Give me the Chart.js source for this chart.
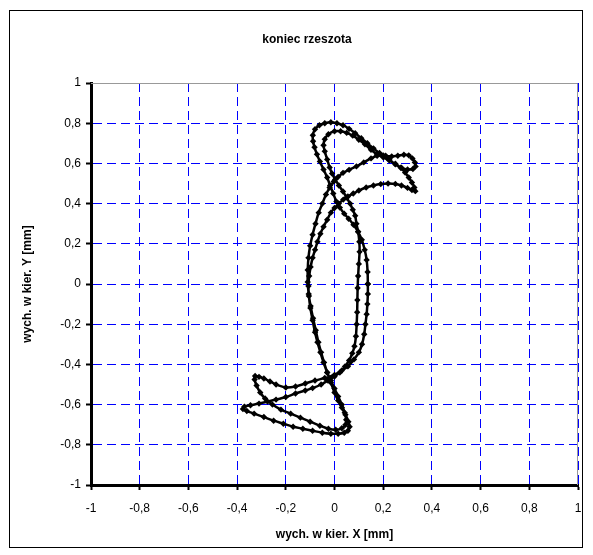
<!DOCTYPE html>
<html>
<head>
<meta charset="utf-8">
<script src="https://cdn.jsdelivr.net/npm/chart.js@4.4.1/dist/chart.umd.min.js"></script>
<style>
    html, body { margin: 0; padding: 0; background: #fff; }
    #wrap { width: 593px; height: 555px; }
</style>
</head>
<body>
<div id="wrap"><canvas id="sieveChart" width="593" height="555"></canvas></div>
<script>
// Chart texts
const chartTitle = 'koniec rzeszota';
const xAxisTitle = 'wych. w kier. X [mm]';
const yAxisTitle = 'wych. w kier. Y [mm]';

// Tick labels (comma as decimal separator)
const xTickLabels = ['-1', '-0,8', '-0,6', '-0,4', '-0,2', '0', '0,2', '0,4', '0,6', '0,8', '1'];
const yTickLabels = ['-1', '-0,8', '-0,6', '-0,4', '-0,2', '0', '0,2', '0,4', '0,6', '0,8', '1'];

// Trajectory of the sieve end (two laps, closed)
const xValues = [
    0.137, 0.136, 0.132, 0.124, 0.112, 0.097, 0.078, 0.058, 0.04, 0.022,
    0.008, -0.005, -0.018, -0.03, -0.045, -0.06, -0.072, -0.082, -0.088, -0.089,
    -0.08, -0.062, -0.04, -0.015, 0.01, 0.035, 0.06, 0.085, 0.11, 0.135,
    0.16, 0.185, 0.21, 0.235, 0.26, 0.285, 0.305, 0.32, 0.33, 0.333,
    0.322, 0.30, 0.275, 0.25, 0.225, 0.2, 0.175, 0.15, 0.12, 0.09,
    0.06, 0.035, 0.015, -0.003, -0.02, -0.035, -0.05, -0.065, -0.078, -0.09,
    -0.1, -0.107, -0.11, -0.11, -0.106, -0.098, -0.088, -0.077, -0.066, -0.055,
    -0.043, -0.03, -0.015, 0.0, 0.015, 0.03, 0.045, 0.057, 0.062, 0.055,
    0.04, 0.015, -0.015, -0.05, -0.09, -0.13, -0.17, -0.21, -0.25, -0.29,
    -0.33, -0.36, -0.376, -0.37, -0.345, -0.31, -0.275, -0.24, -0.2, -0.16,
    -0.12, -0.09, -0.055, -0.027, 0.0, 0.022, 0.043, 0.06, 0.073, 0.082,
    0.088, 0.091, 0.093, 0.094, 0.095,
    0.097, 0.10, 0.103, 0.102, 0.097, 0.09, 0.085, 0.075, 0.064, 0.05,
    0.035, 0.018, 0.003, -0.01, -0.02, -0.03, -0.04, -0.045, -0.04, -0.025,
    0.0, 0.025, 0.05, 0.075, 0.1, 0.125, 0.15, 0.175, 0.2, 0.225,
    0.25, 0.272, 0.29, 0.305, 0.318, 0.328, 0.332, 0.318, 0.3, 0.275,
    0.25, 0.22, 0.19, 0.16, 0.13, 0.1, 0.077, 0.055, 0.036, 0.018,
    0.0, -0.015, -0.03, -0.045, -0.058, -0.07, -0.08, -0.09, -0.098, -0.104,
    -0.107, -0.105, -0.099, -0.09, -0.08, -0.07, -0.058, -0.045, -0.03, -0.015,
    0.0, 0.015, 0.03, 0.042, 0.048, 0.045, 0.03, 0.005, -0.025, -0.06,
    -0.1, -0.14, -0.18, -0.22, -0.255, -0.285, -0.305, -0.32, -0.328, -0.326,
    -0.31, -0.29, -0.265, -0.24, -0.2, -0.16, -0.12, -0.08, -0.04, 0.0,
    0.03, 0.055, 0.08, 0.1, 0.113, 0.122, 0.127, 0.132, 0.135, 0.137,
    0.137
];
const yValues = [
    0.00, 0.06, 0.12, 0.17, 0.22, 0.26, 0.295, 0.325, 0.35, 0.38,
    0.41, 0.45, 0.49, 0.53, 0.57, 0.61, 0.645, 0.68, 0.71, 0.74,
    0.77, 0.79, 0.80, 0.805, 0.80, 0.79, 0.772, 0.75, 0.725, 0.70,
    0.675, 0.652, 0.638, 0.635, 0.638, 0.643, 0.64, 0.625, 0.605, 0.585,
    0.572, 0.57, 0.578, 0.595, 0.618, 0.64, 0.638, 0.625, 0.605, 0.585,
    0.568, 0.553, 0.533, 0.51, 0.48, 0.445, 0.40, 0.355, 0.30, 0.245,
    0.19, 0.13, 0.07, 0.01, -0.05, -0.11, -0.17, -0.23, -0.29, -0.34,
    -0.39, -0.44, -0.49, -0.54, -0.58, -0.615, -0.65, -0.685, -0.71, -0.73,
    -0.74, -0.745, -0.745, -0.74, -0.73, -0.72, -0.71, -0.695, -0.68, -0.662,
    -0.645, -0.632, -0.622, -0.61, -0.603, -0.595, -0.585, -0.575, -0.562, -0.545,
    -0.53, -0.518, -0.50, -0.48, -0.46, -0.44, -0.41, -0.38, -0.345, -0.31,
    -0.26, -0.2, -0.14, -0.08, -0.02,
    0.04, 0.10, 0.16, 0.21, 0.26, 0.30, 0.34, 0.37, 0.40, 0.43,
    0.46, 0.49, 0.52, 0.55, 0.58, 0.62, 0.66, 0.69, 0.72, 0.745,
    0.76, 0.76, 0.752, 0.738, 0.718, 0.695, 0.668, 0.645, 0.63, 0.615,
    0.598, 0.578, 0.555, 0.53, 0.505, 0.48, 0.462, 0.468, 0.478, 0.49,
    0.498, 0.50, 0.497, 0.49, 0.48, 0.465, 0.45, 0.435, 0.42, 0.40,
    0.378, 0.355, 0.32, 0.285, 0.25, 0.21, 0.17, 0.13, 0.085, 0.04,
    -0.01, -0.06, -0.12, -0.18, -0.24, -0.29, -0.34, -0.39, -0.44, -0.48,
    -0.52, -0.56, -0.60, -0.64, -0.675, -0.70, -0.718, -0.725, -0.72, -0.705,
    -0.685, -0.665, -0.645, -0.625, -0.60, -0.57, -0.54, -0.505, -0.475, -0.458,
    -0.462, -0.47, -0.485, -0.50, -0.515, -0.51, -0.495, -0.48, -0.468, -0.452,
    -0.43, -0.41, -0.375, -0.34, -0.30, -0.25, -0.20, -0.15, -0.10, -0.05,
    0.00
];

const tickFont = { family: 'Liberation Sans, Arial, sans-serif', size: 12 };
const boldFont = { family: 'Liberation Sans, Arial, sans-serif', size: 12, weight: 'bold' };

// White page, outer frame, grey plot border and the chart title
const framePlugin = {
    id: 'frame',
    beforeDraw(chart) {
        const ctx = chart.ctx;
        ctx.save();
        ctx.fillStyle = '#fff';
        ctx.fillRect(0, 0, chart.width, chart.height);
        ctx.strokeStyle = '#000';
        ctx.lineWidth = 1;
        ctx.strokeRect(9.5, 10.5, 573, 537);
        ctx.fillStyle = '#000';
        ctx.font = 'bold 12px "Liberation Sans", Arial, sans-serif';
        ctx.textAlign = 'center';
        ctx.textBaseline = 'middle';
        ctx.fillText(chartTitle, 307, 40);
        ctx.restore();
    },
    beforeDatasetsDraw(chart) {
        const a = chart.chartArea;
        const ctx = chart.ctx;
        ctx.save();
        ctx.strokeStyle = '#999';
        ctx.lineWidth = 1;
        ctx.beginPath();
        ctx.moveTo(a.left, a.top + 0.5);
        ctx.lineTo(a.right - 0.5, a.top + 0.5);
        ctx.lineTo(a.right - 0.5, a.bottom);
        ctx.stroke();
        ctx.restore();
    }
};

const points = xValues.map((x, i) => ({ x: x, y: yValues[i] }));

const ctx = document.getElementById('sieveChart').getContext('2d');
new Chart(ctx, {
    type: 'scatter',
    data: {
        datasets: [{
            data: points,
            showLine: true,
            borderColor: '#000',
            borderWidth: 2.5,
            tension: 0.3,
            pointStyle: 'rectRot',
            pointRadius: 3.2,
            pointBackgroundColor: '#000',
            pointBorderColor: '#000',
            pointBorderWidth: 0
        }]
    },
    options: {
        responsive: false,
        animation: false,
        devicePixelRatio: 1,
        layout: { padding: { top: 83, left: 0, right: 15, bottom: 0 } },
        plugins: {
            legend: { display: false },
            tooltip: { enabled: false },
            title: { display: false }
        },
        scales: {
            x: {
                type: 'linear',
                min: -1,
                max: 1,
                afterFit(scale) { scale.height = 70; },
                ticks: {
                    stepSize: 0.2,
                    color: '#000',
                    font: tickFont,
                    padding: 11,
                    maxRotation: 0,
                    callback: (value, index) => xTickLabels[index]
                },
                grid: {
                    color: '#0000ff',
                    lineWidth: 1,
                    tickLength: 5,
                    tickColor: '#000',
                    tickWidth: 2,
                    tickBorderDash: []
                },
                border: { display: true, color: '#000', width: 3, dash: [9, 5] },
                title: {
                    display: true,
                    text: xAxisTitle,
                    color: '#000',
                    font: boldFont,
                    padding: { top: 0, bottom: 13 }
                }
            },
            y: {
                type: 'linear',
                min: -1,
                max: 1,
                afterFit(scale) { scale.width = 91; },
                ticks: {
                    stepSize: 0.2,
                    color: '#000',
                    font: tickFont,
                    padding: 5,
                    callback: (value, index) => yTickLabels[index]
                },
                grid: {
                    color: '#0000ff',
                    lineWidth: 1,
                    tickLength: 5,
                    tickColor: '#000',
                    tickWidth: 2,
                    tickBorderDash: []
                },
                border: { display: true, color: '#000', width: 3, dash: [9, 5] },
                title: {
                    display: true,
                    text: yAxisTitle,
                    color: '#000',
                    font: boldFont,
                    padding: { top: 20, bottom: 0 }
                }
            }
        }
    },
    plugins: [framePlugin]
});
</script>
</body>
</html>
